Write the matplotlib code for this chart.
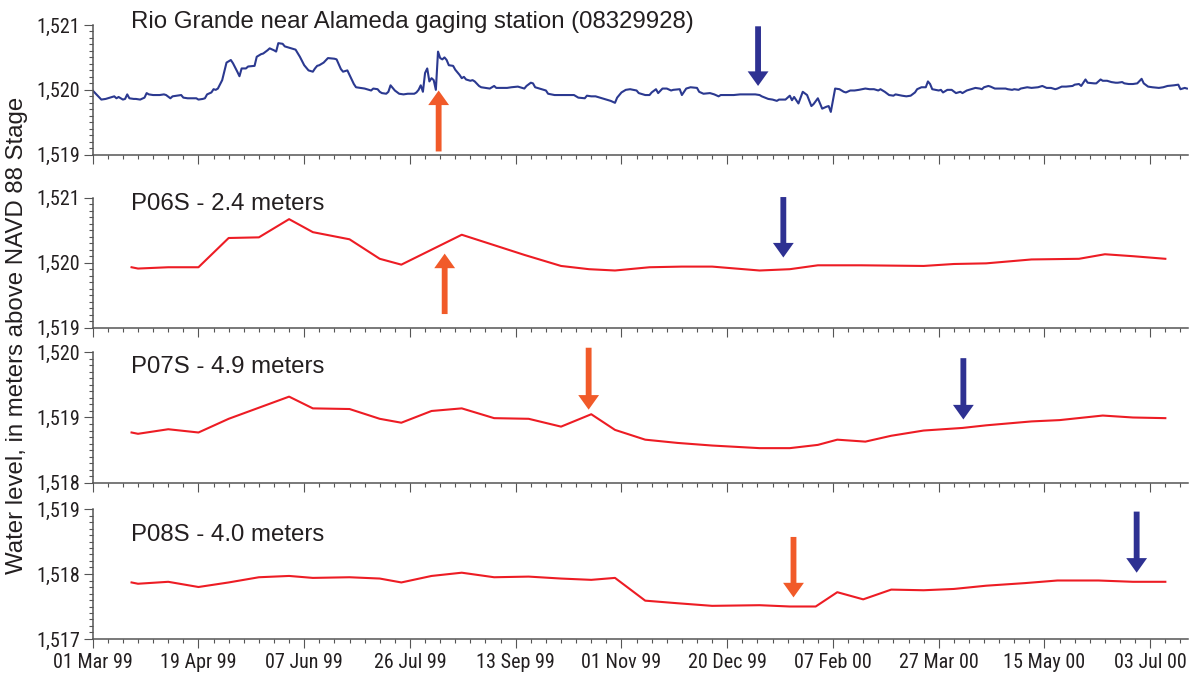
import numpy as np
import matplotlib
matplotlib.use('Agg')
import matplotlib.pyplot as plt
from matplotlib import font_manager
from matplotlib.font_manager import FontProperties
from matplotlib.ticker import FuncFormatter, MultipleLocator, FixedLocator
import matplotlib.dates as mdates

plt.rcParams['font.family'] = ['Liberation Sans', 'DejaVu Sans']


def _pick_narrow():
    prefs = ['Liberation Sans Narrow', 'Arial Narrow', 'Roboto Condensed', 'Open Sans Condensed',
             'Noto Sans', 'DejaVu Sans']
    found = {}
    for f in font_manager.fontManager.ttflist:
        narrow = ('Narrow' in f.name or 'Condensed' in f.name or
                  str(f.stretch) in ('condensed', 'semi-condensed'))
        w = f.weight
        regular = (w in (400, 'normal', 'regular', 'book', 'Regular')) or (str(w) == '400')
        if narrow and regular and f.style == 'normal' and 'Bold' not in f.fname:
            found.setdefault(f.name, f.fname)
    for p in prefs:
        if p in found:
            return FontProperties(fname=found[p]), True
    return FontProperties(family='Liberation Sans'), False


TICK_FP, IS_NARROW = _pick_narrow()
TICK_SIZE = 14.5 if IS_NARROW else 13.8

START = '1999-03-01'
END_DAY = 507.5

# ---------------- data ----------------
# Rio Grande near Alameda gaging station stage (days since 01 Mar 99, m)
stage_day = [0, 2, 4, 6, 8, 10, 11, 12, 14, 15, 16, 17, 19, 20, 22, 24, 25, 26, 28, 30,
             31, 33, 34, 36, 37, 39, 41, 42, 44, 46, 48, 49, 51, 52, 53, 55, 56, 57, 58, 60,
             62, 64, 65, 67, 68, 69, 71, 72, 75, 76, 78, 79, 81, 82, 84, 85, 86, 88, 89, 92,
             94, 96, 98, 100, 102, 103, 104, 105, 107, 109, 112, 113, 115, 116, 118, 119, 121, 122, 124, 126,
             127, 129, 130, 132, 133, 134, 136, 137, 138, 140, 142, 144, 146, 149, 150, 151, 152, 153, 154, 155,
             156, 157, 158, 159, 160, 161, 162, 163, 164, 165, 167, 168, 170, 171, 172, 173, 175, 176, 177, 179,
             180, 182, 184, 186, 187, 190, 192, 194, 197, 198, 200, 201, 203, 204, 205, 208, 210, 211, 214, 217,
             220, 223, 225, 228, 229, 231, 233, 235, 238, 240, 242, 243, 245, 247, 249, 252, 253, 256, 258, 259,
             261, 262, 264, 266, 268, 269, 272, 273, 275, 277, 280, 281, 283, 286, 288, 290, 291, 294, 297, 300,
             303, 307, 309, 310, 313, 315, 317, 318, 321, 323, 324, 325, 327, 329, 331, 333, 334, 336, 338, 340,
             341, 342, 344, 346, 348, 349, 351, 353, 355, 358, 360, 362, 364, 365, 367, 369, 371, 372, 375, 377,
             379, 381, 382, 384, 386, 387, 388, 389, 392, 393, 394, 396, 398, 400, 402, 403, 405, 407, 409, 411,
             412, 413, 415, 416, 418, 420, 423, 424, 426, 427, 429, 430, 433, 435, 438, 440, 442, 444, 446, 447,
             449, 451, 454, 455, 457, 458, 460, 461, 464, 465, 467, 468, 470, 472, 474, 475, 477, 478, 480, 482,
             484, 486, 487, 489, 491, 494, 496, 498, 501, 503, 504, 506, 507]
stage_m = [1519.99, 1519.92, 1519.85, 1519.86, 1519.88, 1519.90, 1519.87, 1519.89, 1519.85, 1519.86,
           1519.93, 1519.87, 1519.86, 1519.86, 1519.85, 1519.88, 1519.95, 1519.93, 1519.92, 1519.92,
           1519.92, 1519.93, 1519.92, 1519.87, 1519.90, 1519.91, 1519.92, 1519.88, 1519.87, 1519.87,
           1519.87, 1519.85, 1519.86, 1519.87, 1519.93, 1519.96, 1520.01, 1520.00, 1520.02, 1520.15,
           1520.42, 1520.46, 1520.41, 1520.28, 1520.21, 1520.33, 1520.33, 1520.36, 1520.37, 1520.51,
           1520.55, 1520.56, 1520.61, 1520.64, 1520.61, 1520.59, 1520.72, 1520.71, 1520.67, 1520.64,
           1520.62, 1520.51, 1520.38, 1520.30, 1520.28, 1520.33, 1520.37, 1520.38, 1520.42, 1520.49,
           1520.48, 1520.47, 1520.32, 1520.28, 1520.30, 1520.23, 1520.09, 1520.04, 1520.03, 1520.02,
           1520.01, 1519.99, 1520.02, 1520.01, 1519.97, 1519.95, 1519.94, 1519.97, 1520.07, 1519.99,
           1519.94, 1519.93, 1519.94, 1519.94, 1519.96, 1520.00, 1520.07, 1519.97, 1520.26, 1520.33,
           1520.13, 1520.18, 1520.15, 1520.00, 1520.59, 1520.49, 1520.47, 1520.50, 1520.46, 1520.38,
           1520.37, 1520.31, 1520.23, 1520.18, 1520.20, 1520.16, 1520.14, 1520.15, 1520.13, 1520.06,
           1520.04, 1520.03, 1520.02, 1520.06, 1520.03, 1520.03, 1520.03, 1520.04, 1520.05, 1520.04,
           1520.02, 1520.06, 1520.11, 1520.10, 1520.04, 1520.01, 1519.99, 1519.94, 1519.92, 1519.92,
           1519.92, 1519.92, 1519.88, 1519.87, 1519.91, 1519.90, 1519.90, 1519.88, 1519.85, 1519.83,
           1519.80, 1519.88, 1519.96, 1520.00, 1520.01, 1519.99, 1519.95, 1519.92, 1519.92, 1519.96,
           1520.01, 1519.95, 1520.02, 1520.02, 1519.99, 1520.00, 1520.01, 1519.92, 1520.02, 1520.04,
           1520.03, 1519.97, 1519.94, 1519.95, 1519.93, 1519.90, 1519.92, 1519.92, 1519.92, 1519.93,
           1519.93, 1519.93, 1519.92, 1519.90, 1519.86, 1519.85, 1519.83, 1519.85, 1519.85, 1519.91,
           1519.84, 1519.89, 1519.79, 1519.97, 1519.92, 1519.75, 1519.78, 1519.87, 1519.71, 1519.74,
           1519.75, 1519.66, 1520.02, 1520.01, 1519.97, 1519.96, 1519.99, 1519.99, 1520.00, 1520.02,
           1520.01, 1520.01, 1519.99, 1520.01, 1519.97, 1519.92, 1519.91, 1519.93, 1519.91, 1519.90,
           1519.91, 1519.96, 1520.01, 1520.04, 1520.04, 1520.13, 1520.09, 1520.01, 1519.99, 1520.00,
           1519.96, 1520.00, 1520.00, 1519.95, 1519.97, 1519.95, 1519.99, 1520.01, 1520.03, 1520.02,
           1520.01, 1520.04, 1520.06, 1520.05, 1520.02, 1520.02, 1520.02, 1520.01, 1520.00, 1520.01,
           1520.00, 1520.02, 1520.04, 1520.03, 1520.04, 1520.06, 1520.03, 1520.03, 1520.01, 1520.02,
           1520.05, 1520.05, 1520.06, 1520.08, 1520.09, 1520.06, 1520.16, 1520.11, 1520.10, 1520.10,
           1520.16, 1520.14, 1520.14, 1520.12, 1520.11, 1520.11, 1520.12, 1520.10, 1520.09, 1520.09,
           1520.10, 1520.17, 1520.10, 1520.05, 1520.04, 1520.03, 1520.04, 1520.06, 1520.07, 1520.08,
           1520.01, 1520.03, 1520.02]

# P06S piezometer
p06_day = [18, 21, 35, 49, 63, 77, 91, 102, 119, 133, 143, 171, 186, 200, 217, 230,
           242, 258, 273, 287, 309, 323, 336, 356, 385, 399, 414, 435, 457, 469, 482, 497]
p06_m = [1519.93, 1519.91, 1519.93, 1519.93, 1520.38, 1520.39, 1520.67, 1520.47, 1520.36, 1520.06,
         1519.97, 1520.43, 1520.27, 1520.12, 1519.95, 1519.90, 1519.88, 1519.93, 1519.94, 1519.94,
         1519.88, 1519.90, 1519.96, 1519.96, 1519.95, 1519.98, 1519.99, 1520.05, 1520.06, 1520.13,
         1520.10, 1520.06]

# P07S piezometer
p07_day = [18, 21, 35, 49, 63, 77, 91, 102, 119, 133, 143, 157, 171, 186, 202, 217, 231,
           242, 256, 271, 287, 309, 323, 336, 345, 358, 370, 385, 403, 414, 435, 448, 468, 482, 497]
p07_m = [1518.77, 1518.75, 1518.82, 1518.77, 1518.98, 1519.15, 1519.32, 1519.14, 1519.13, 1518.98,
         1518.92, 1519.10, 1519.14, 1518.99, 1518.98, 1518.86, 1519.05,
         1518.81, 1518.66, 1518.61, 1518.57, 1518.53, 1518.53, 1518.58, 1518.66, 1518.63, 1518.72,
         1518.80, 1518.84, 1518.88, 1518.94, 1518.96, 1519.03, 1519.00, 1518.99]

# P08S piezometer
p08_day = [18, 21, 35, 49, 63, 77, 91, 102, 119, 133, 143, 157, 171, 186, 202, 217, 231,
           242, 256, 271, 287, 309, 323, 335, 345, 357, 370, 385, 399, 414, 432, 447, 466, 482, 497]
p08_m = [1517.87, 1517.85, 1517.88, 1517.80, 1517.87, 1517.95, 1517.97, 1517.94, 1517.95, 1517.93,
         1517.87, 1517.97, 1518.02, 1517.95, 1517.96, 1517.93, 1517.91,
         1517.94, 1517.59, 1517.55, 1517.51, 1517.52, 1517.50, 1517.50, 1517.72, 1517.61, 1517.76,
         1517.75, 1517.77, 1517.82, 1517.86, 1517.90, 1517.90, 1517.88, 1517.88]

panel_titles = ['Rio Grande near Alameda gaging station (08329928)',
                'P06S - 2.4 meters', 'P07S - 4.9 meters', 'P08S - 4.0 meters']
panel_ylims = [(1519, 1521), (1519, 1521), (1518, 1520), (1517, 1519)]

# arrows: (day, tail level, tip level, kind)
arrows = [
    [(160.3, 1519.05, 1519.99, 'rise'), (308.3, 1520.98, 1520.06, 'fall')],
    [(163.1, 1519.21, 1520.14, 'rise'), (320.0, 1521.01, 1520.08, 'fall')],
    [(229.8, 1520.07, 1519.12, 'rise'), (403.4, 1519.91, 1518.97, 'fall')],
    [(324.7, 1518.57, 1517.64, 'rise'), (483.7, 1518.96, 1518.02, 'fall')],
]

tick_labels_dates = ['1999-03-01', '1999-04-19', '1999-06-07', '1999-07-26', '1999-09-13',
                     '1999-11-01', '1999-12-20', '2000-02-07', '2000-03-27', '2000-05-15',
                     '2000-07-03']

# ---------------- styling ----------------
NAVY_LINE = '#2B3990'
RED_LINE = '#ED1C24'
ARROW_COL = {'rise': '#F15A29', 'fall': '#2E3192'}
AXIS_COL = '#555555'
TEXT_COL = '#231F20'
LABEL_SIZE = 17.3

start = np.datetime64(START)


def to_dates(days):
    hrs = np.round(np.asarray(days, dtype=float) * 24).astype('int64')
    return start + hrs.astype('timedelta64[h]')


series = [(stage_day, stage_m, NAVY_LINE), (p06_day, p06_m, RED_LINE),
          (p07_day, p07_m, RED_LINE), (p08_day, p08_m, RED_LINE)]

W, H = 1193, 677
fig = plt.figure(figsize=(W / 100, H / 100), dpi=100)

left_px, right_px = 92.7, 1188
panel_px = [(25, 154.7), (197.7, 327.7), (352.3, 482.7), (509, 639)]
title_base = [0.975, 0.905, 0.841, 0.756]

major_ticks = mdates.date2num(np.array(tick_labels_dates, dtype='datetime64[D]'))
x0 = mdates.date2num(start)
x1 = mdates.date2num(to_dates([END_DAY])[0])
minor_ticks = np.arange(x0, x1 + 0.01, 7.0)

for i, (days, vals, col) in enumerate(series):
    top, bot = panel_px[i]
    ax = fig.add_axes([left_px / W, 1 - bot / H, (right_px - left_px) / W, (bot - top) / H])
    ax.plot(to_dates(days), vals, color=col, lw=1.5, solid_joinstyle='round')
    ax.set_xlim(x0, x1)
    ax.set_ylim(*panel_ylims[i])
    for s in ['top', 'right']:
        ax.spines[s].set_visible(False)
    for s in ['left', 'bottom']:
        ax.spines[s].set_color(AXIS_COL)
        ax.spines[s].set_linewidth(1.1)
    ax.xaxis.set_major_locator(FixedLocator(major_ticks))
    ax.xaxis.set_minor_locator(FixedLocator(minor_ticks))
    ax.xaxis.set_major_formatter(mdates.DateFormatter('%d %b %y'))
    ax.yaxis.set_major_locator(MultipleLocator(1))
    ax.yaxis.set_minor_locator(MultipleLocator(0.1))
    ax.yaxis.set_major_formatter(FuncFormatter(lambda v, p: f'{v:,.0f}'))
    ax.tick_params(which='major', direction='out', length=6.7, width=0.8, color=AXIS_COL,
                   labelcolor=TEXT_COL)
    ax.tick_params(which='minor', direction='out', length=3.2, width=0.8, color=AXIS_COL)
    ax.tick_params(axis='y', which='major', pad=2.5)
    ax.tick_params(axis='x', which='major', pad=3.5)
    for lab in ax.get_xticklabels() + ax.get_yticklabels():
        lab.set_fontproperties(TICK_FP)
        lab.set_fontsize(TICK_SIZE)
    if i < 3:
        ax.tick_params(axis='x', labelbottom=False)
    ax.text(0.0354, title_base[i], panel_titles[i], transform=ax.transAxes,
            ha='left', va='baseline', fontsize=LABEL_SIZE, color=TEXT_COL)
    for (d, tail, tip, kind) in arrows[i]:
        xd = mdates.date2num(to_dates([d])[0])
        ax.annotate('', xy=(xd, tip), xytext=(xd, tail), annotation_clip=False,
                    arrowprops=dict(width=4.2, headwidth=15, headlength=10.5, shrink=0,
                                    facecolor=ARROW_COL[kind], edgecolor='none'))

fig.text(17.5 / W, 1 - 335 / H, 'Water level, in meters above NAVD 88 Stage', rotation=90,
         ha='center', va='center', fontsize=LABEL_SIZE, color=TEXT_COL)

fig.savefig('out.png', dpi=100)
